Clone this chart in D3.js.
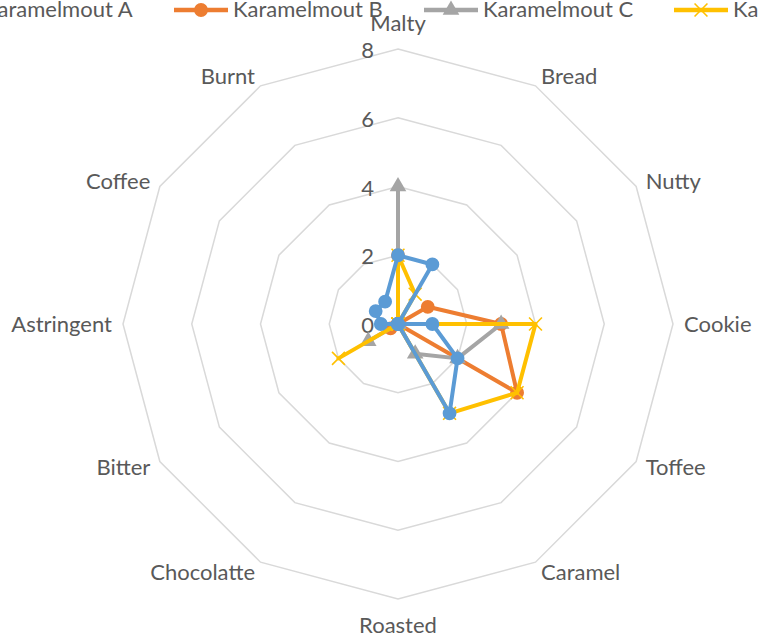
<!DOCTYPE html>
<html>
<head>
<meta charset="utf-8">
<script src="https://cdn.jsdelivr.net/npm/d3@7/dist/d3.min.js"></script>
<style>
  html, body { margin: 0; padding: 0; background: #fff; }
  svg { display: block; }
  text { font-family: Lato, "Open Sans", sans-serif; fill: #595959; }
</style>
</head>
<body>
<svg id="chart" width="759" height="641"></svg>
<script>
// Flavour attributes, clockwise from the top
const categories = ["Malty", "Bread", "Nutty", "Cookie", "Toffee", "Caramel",
                    "Roasted", "Chocolatte", "Bitter", "Astringent", "Coffee", "Burnt"];

const seriesNames = ["Karamelmout A", "Karamelmout B", "Karamelmout C", "Karamelmout D"];

const valuesA = [2, 2, 0, 1, 2, 3, 0, 0, 0, 0.5, 0.75, 0.75];
const valuesB = [2, 0, 1, 3, 4, 0, 0, 0, 0.25, 0, 0, 0];
const valuesC = [4, 0, 0, 3, 2, 1, 0, 0, 1, 0, 0, 0];
const valuesD = [2, 1, 0, 4, 4, 3, 0, 0, 2, 0, 0, 0];

const tickValues = [0, 2, 4, 6, 8];

const seriesColors = ["#5B9BD5", "#ED7D31", "#A5A5A5", "#FFC000"];
const seriesMarkers = ["circle", "circle", "triangle", "x"];
const seriesValues = [valuesA, valuesB, valuesC, valuesD];

const svg = d3.select("#chart");
const cx = 398, cy = 324, R = 275;

const r = d3.scaleLinear().domain([0, 8]).range([0, R]);
const angle = d3.scalePoint()
  .domain(categories)
  .range([0, 2 * Math.PI * (categories.length - 1) / categories.length]);

const plot = svg.append("g").attr("transform", `translate(${cx},${cy})`);

// Concentric grid polygons
const gridLine = d3.lineRadial()
  .angle(c => angle(c))
  .curve(d3.curveLinearClosed);

plot.append("g").selectAll("path")
  .data(tickValues.filter(t => t > 0))
  .join("path")
  .attr("d", t => gridLine.radius(() => r(t))(categories))
  .attr("fill", "none")
  .attr("stroke", "#d9d9d9")
  .attr("stroke-width", 1.5);

// Value labels along the Malty axis
plot.append("g").selectAll("text")
  .data(tickValues)
  .join("text")
  .attr("x", -24)
  .attr("y", t => -r(t) + 9)
  .attr("text-anchor", "end")
  .attr("font-size", 22)
  .text(t => t);

// Category labels around the outside
const labelR = R + 11;
plot.append("g").selectAll("text")
  .data(categories)
  .join("text")
  .each(function (c) {
    const a = angle(c);
    const s = Math.sin(a), co = Math.cos(a);
    let x = labelR * s, y = -labelR * co + 8;
    let anchor = "middle";
    if (s > 0.01) anchor = "start";
    else if (s < -0.01) anchor = "end";
    else y += co > 0 ? -15 : 15;
    d3.select(this)
      .attr("x", x).attr("y", y)
      .attr("text-anchor", anchor)
      .attr("font-size", 22)
      .text(c);
  });

// Marker shapes
function markerPath(kind) {
  if (kind === "circle") return d3.symbol(d3.symbolCircle, 150)();
  if (kind === "triangle") return d3.symbol(d3.symbolTriangle, 120)();
  return d3.symbol(d3.symbolX, 110)();
}
function styleMarker(sel, i) {
  const kind = seriesMarkers[i];
  if (kind === "x") {
    sel.attr("fill", "none").attr("stroke", seriesColors[i]).attr("stroke-width", 1.6);
  } else {
    sel.attr("fill", seriesColors[i]).attr("stroke", "none");
  }
}

// Series, drawn so that A ends up on top
const drawOrder = [1, 2, 3, 0];
const seriesLine = d3.lineRadial()
  .angle((d, j) => angle(categories[j]))
  .radius(d => r(d))
  .curve(d3.curveLinearClosed)
  .defined(() => true);

drawOrder.forEach(i => {
  const g = plot.append("g");
  g.append("path")
    .attr("d", seriesLine(seriesValues[i]))
    .attr("fill", "none")
    .attr("stroke", seriesColors[i])
    .attr("stroke-width", 4)
    .attr("stroke-linejoin", "round");
  g.selectAll("path.marker")
    .data(seriesValues[i])
    .join("path")
    .attr("class", "marker")
    .attr("d", markerPath(seriesMarkers[i]))
    .attr("transform", (d, j) => {
      const a = angle(categories[j]);
      return `translate(${r(d) * Math.sin(a)},${-r(d) * Math.cos(a)})`;
    })
    .call(styleMarker, i);
});

// Legend across the top
const legendX0 = -76, legendStep = 250, legendY = 10;
const legend = svg.append("g");
seriesNames.forEach((name, i) => {
  const g = legend.append("g").attr("transform", `translate(${legendX0 + i * legendStep},${legendY})`);
  g.append("line")
    .attr("x1", 0).attr("x2", 54).attr("y1", 0).attr("y2", 0)
    .attr("stroke", seriesColors[i]).attr("stroke-width", 4.5);
  g.append("path")
    .attr("d", markerPath(seriesMarkers[i]))
    .attr("transform", "translate(27,0)")
    .call(styleMarker, i);
  g.append("text")
    .attr("x", 59).attr("y", 7)
    .attr("font-size", 22)
    .text(name);
});
</script>
</body>
</html>
